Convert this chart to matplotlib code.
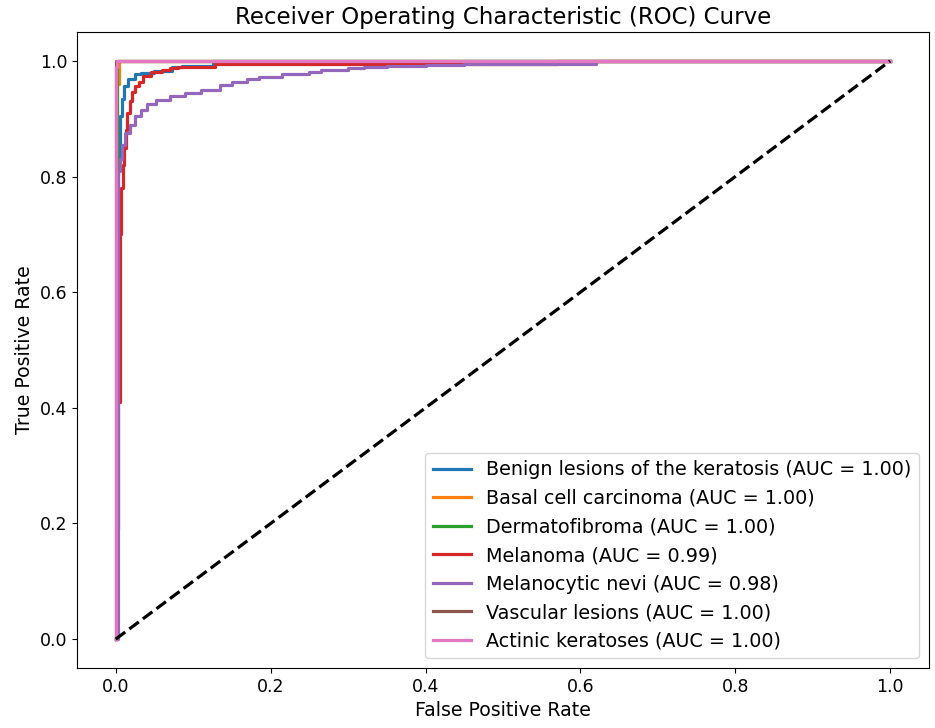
import matplotlib
matplotlib.use("Agg")
import matplotlib.pyplot as plt

# ROC points (fpr, tpr), drawn as steps
class_names = ["Benign lesions of the keratosis", "Basal cell carcinoma", "Dermatofibroma",
               "Melanoma", "Melanocytic nevi", "Vascular lesions", "Actinic keratoses"]
auc_values = [1.00, 1.00, 1.00, 0.99, 0.98, 1.00, 1.00]

fpr_benign = [0, 0.002, 0.003, 0.003, 0.005, 0.006, 0.008, 0.011, 0.016, 0.025, 0.033, 0.05, 0.072, 0.085, 0.125, 1.0]
tpr_benign = [0, 0.59, 0.71, 0.825, 0.88, 0.905, 0.934, 0.957, 0.969, 0.977, 0.98, 0.983, 0.989, 0.992, 1.0, 1.0]

fpr_basal = [0, 0.002, 0.004, 1.0]
tpr_basal = [0, 0.96, 1.0, 1.0]

fpr_derma = [0, 0.001, 1.0]
tpr_derma = [0, 1.0, 1.0]

fpr_mel = [0, 0.002, 0.003, 0.005, 0.006, 0.007, 0.009, 0.011, 0.013, 0.015, 0.018, 0.021, 0.025,
           0.03, 0.035, 0.045, 0.06, 0.07, 0.08, 0.128, 0.57, 1.0]
tpr_mel = [0, 0.19, 0.41, 0.556, 0.70, 0.78, 0.82, 0.85, 0.88, 0.91, 0.93, 0.946, 0.957,
           0.963, 0.974, 0.981, 0.984, 0.987, 0.99, 0.995, 1.0, 1.0]

fpr_nevi = [0, 0.003, 0.003, 0.005, 0.008, 0.012, 0.018, 0.025, 0.032, 0.04, 0.052, 0.07, 0.09, 0.11,
            0.135, 0.15, 0.17, 0.185, 0.215, 0.25, 0.265, 0.3, 0.32, 0.35, 0.4, 0.45, 0.62, 1.0]
tpr_nevi = [0, 0.74, 0.81, 0.83, 0.855, 0.875, 0.89, 0.905, 0.915, 0.925, 0.933, 0.94, 0.945, 0.95,
            0.958, 0.963, 0.968, 0.973, 0.977, 0.981, 0.984, 0.987, 0.989, 0.991, 0.993, 0.995, 1.0, 1.0]

fpr_vasc = [0, 0.0, 1.0]
tpr_vasc = [0, 1.0, 1.0]

fpr_act = [0, 0.0, 0.001, 1.0]
tpr_act = [0, 0.99, 1.0, 1.0]

fprs = [fpr_benign, fpr_basal, fpr_derma, fpr_mel, fpr_nevi, fpr_vasc, fpr_act]
tprs = [tpr_benign, tpr_basal, tpr_derma, tpr_mel, tpr_nevi, tpr_vasc, tpr_act]

fig = plt.figure(figsize=(9.35, 7.28), dpi=100)
ax = fig.add_axes([0.0824, 0.0824, 0.911, 0.8736])

for i in range(len(class_names)):
    ax.plot(fprs[i], tprs[i], drawstyle="steps-post", lw=2.3,
            label=f"{class_names[i]} (AUC = {auc_values[i]:.2f})")

ax.plot([0, 1], [0, 1], "k--", lw=2.3)

ax.set_title("Receiver Operating Characteristic (ROC) Curve", fontsize=16.5)
ax.set_xlabel("False Positive Rate", fontsize=13.6)
ax.set_ylabel("True Positive Rate", fontsize=13.6)
ax.tick_params(labelsize=12.5)
ax.legend(loc="lower right", fontsize=13.8)

fig.savefig("out.png")
